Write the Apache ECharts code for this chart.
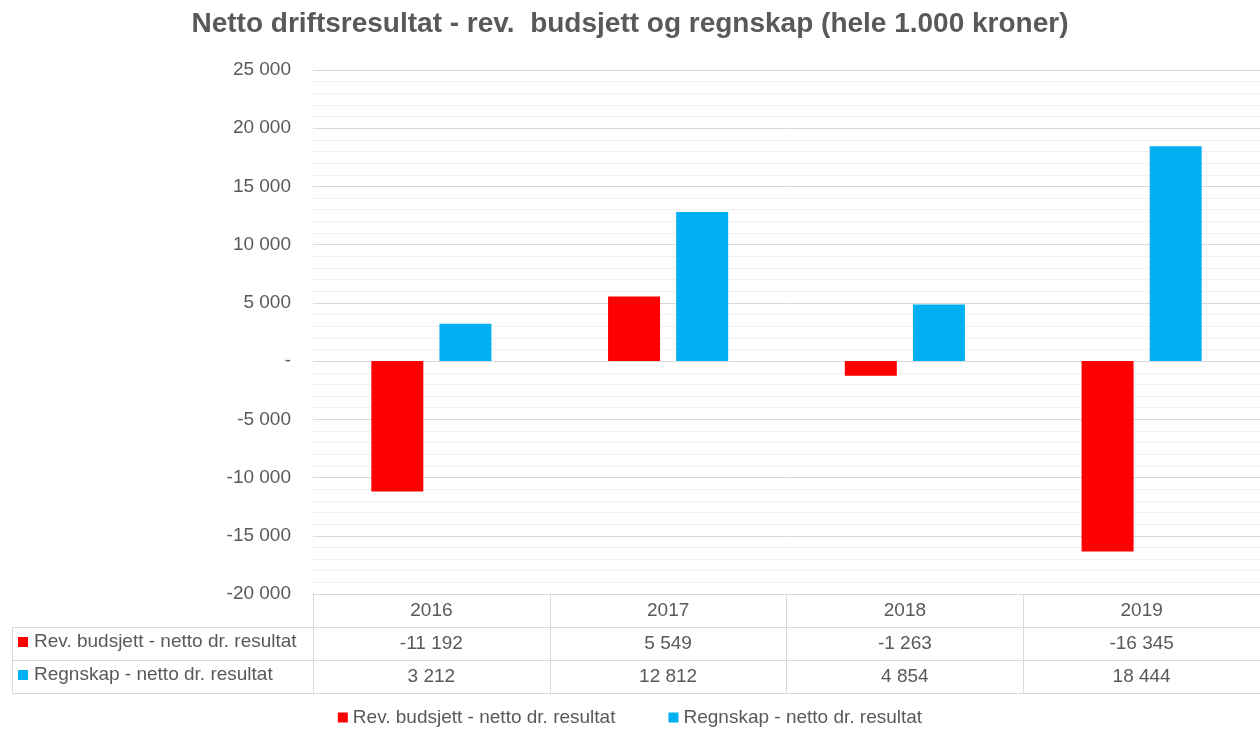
<!DOCTYPE html>
<html><head><meta charset="utf-8">
<script src="https://cdn.jsdelivr.net/npm/echarts@6/dist/echarts.min.js"></script>
<style>html,body{margin:0;padding:0;background:#fff}#c{width:1260px;height:733px}</style>
</head><body><div id="c"></div>
<script>
const titleText = 'Netto driftsresultat - rev.  budsjett og regnskap (hele 1.000 kroner)';
const categories = ['2016', '2017', '2018', '2019'];
const seriesNames = ['Rev. budsjett - netto dr. resultat', 'Regnskap - netto dr. resultat'];
const budsjett = [-11192, 5549, -1263, -16345];
const regnskap = [3212, 12812, 4854, 18444];
const colors = ['#FF0000', '#00B0F0'];

const FONT = 'Liberation Sans';
const TXT = '#595959';
const BORDER = '#D9D9D9';
const FS = 19;

function fmt(v) {
  if (v === 0) return '-';
  const s = Math.abs(v).toString().replace(/\B(?=(\d{3})+(?!\d))/g, ' ');
  return (v < 0 ? '-' : '') + s;
}

const chart = echarts.init(document.getElementById('c'));
const tableAxis = (offset, values, showLabel, showTick) => ({
  type: 'category', data: categories, gridIndex: 0, position: 'bottom', offset: offset,
  axisLine: { show: true, onZero: false, lineStyle: { color: BORDER, width: 1 } },
  axisTick: { show: showTick, length: 33, lineStyle: { color: BORDER } },
  axisLabel: { show: showLabel, margin: 7, color: TXT, fontFamily: FONT, fontSize: FS,
    formatter: (v, i) => values ? fmt(values[i]) : v },
  splitLine: { show: false }
});

chart.setOption({
  animation: false,
  title: { text: titleText, left: 'center', top: 5,
    textStyle: { color: TXT, fontFamily: FONT, fontSize: 28, fontWeight: 'bold' } },
  grid: { left: 313, right: 0, top: 70, bottom: 139 },
  legend: { bottom: 1, left: 'center', icon: 'rect', itemWidth: 10, itemHeight: 10, itemGap: 53,
    textStyle: { color: TXT, fontFamily: FONT, fontSize: FS } },
  xAxis: [
    tableAxis(0, null, true, true),
    tableAxis(33, budsjett, true, true),
    tableAxis(66, regnskap, true, true),
    tableAxis(99, null, false, false)
  ],
  yAxis: {
    type: 'value', min: -20000, max: 25000, interval: 5000,
    axisLine: { show: false }, axisTick: { show: false },
    axisLabel: { color: TXT, fontFamily: FONT, fontSize: FS, margin: 22, formatter: v => fmt(v) },
    splitLine: { lineStyle: { color: BORDER, width: 1 } },
    minorTick: { show: false, splitNumber: 5 },
    minorSplitLine: { show: true, lineStyle: { color: '#EFEFEF', width: 1 } }
  },
  series: [
    { name: seriesNames[0], type: 'bar', data: budsjett, barWidth: 52, barGap: '31%', itemStyle: { color: colors[0] } },
    { name: seriesNames[1], type: 'bar', data: regnskap, barWidth: 52, barGap: '31%', itemStyle: { color: colors[1] } }
  ],
  graphic: [
    { type: 'rect', shape: { x: 12.5, y: 627.5, width: 301, height: 66 }, style: { fill: 'none', stroke: BORDER, lineWidth: 1 } },
    { type: 'line', shape: { x1: 12.5, y1: 660.5, x2: 313, y2: 660.5 }, style: { stroke: BORDER, lineWidth: 1 } },
    { type: 'rect', shape: { x: 18, y: 637, width: 10, height: 10 }, style: { fill: colors[0] } },
    { type: 'rect', shape: { x: 18, y: 670, width: 10, height: 10 }, style: { fill: colors[1] } },
    { type: 'text', x: 34, y: 642, style: { text: seriesNames[0], fill: TXT, font: FS + 'px "Liberation Sans"', verticalAlign: 'middle' } },
    { type: 'text', x: 34, y: 675, style: { text: seriesNames[1], fill: TXT, font: FS + 'px "Liberation Sans"', verticalAlign: 'middle' } }
  ]
});
</script></body></html>
